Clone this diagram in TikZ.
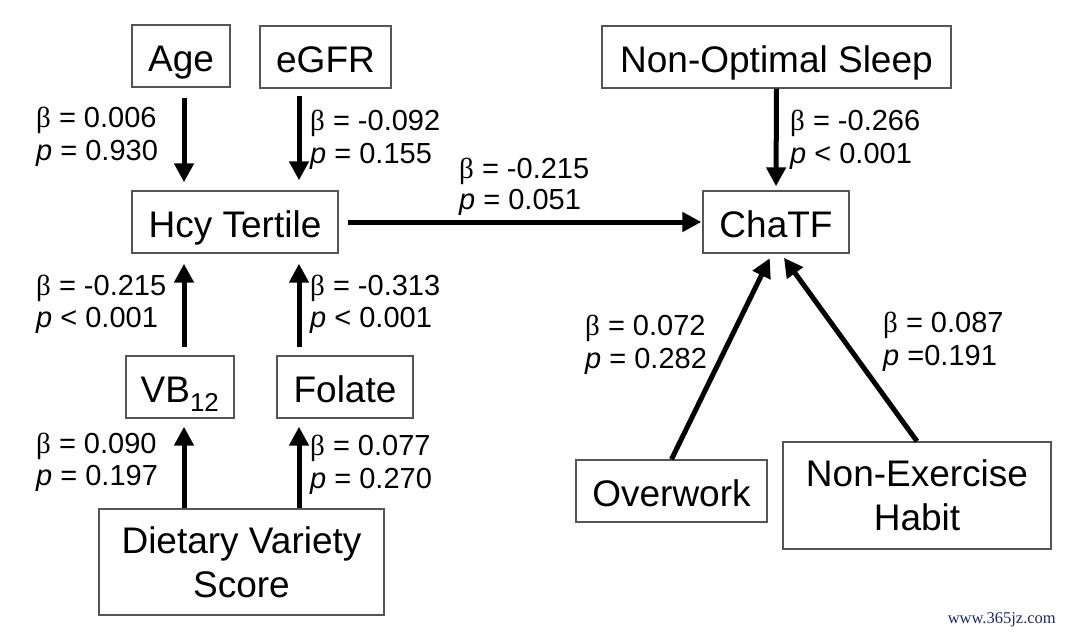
\documentclass[tikz,border=0pt]{standalone}
\usepackage{fontspec}
\setmainfont{Liberation Sans}
\newfontfamily\grkfont{Liberation Serif}
\newfontfamily\wmfont{Liberation Serif}
\usetikzlibrary{arrows.meta}
\newcommand\betasym{{\grkfont β}}
\definecolor{wmblue}{RGB}{28,40,110}
\definecolor{boxgray}{RGB}{85,85,85}
\begin{document}
\begin{tikzpicture}[x=1pt,y=-1pt,
  box/.style={draw=boxgray, line width=1.4pt, inner sep=0pt, font=\fontsize{37}{44}\selectfont, text height=30pt, text depth=0pt},
  boxtwo/.style={draw=boxgray, line width=1.4pt, inner sep=0pt, font=\fontsize{37}{44}\selectfont, align=center},
  lbl/.style={inner sep=0pt, anchor=base west, font=\fontsize{29}{33}\selectfont},
  arr/.style={line width=5pt, -{Triangle[length=19pt,width=19pt]}}]
\useasboundingbox (0,0) rectangle (1080,635);
% nodes
\node[box, minimum width=98pt, minimum height=62pt] (age) at (181,56) {Age};
\node[box, minimum width=131pt, minimum height=62pt] (egfr) at (325.5,57) {eGFR};
\node[box, minimum width=349pt, minimum height=62pt] (sleep) at (776.5,57) {Non-Optimal Sleep};
\node[box, minimum width=206pt, minimum height=62pt] (hcy) at (235,222) {Hcy Tertile};
\node[box, minimum width=146pt, minimum height=62pt] (chatf) at (776,222) {ChaTF};
\node[box, minimum width=108pt, minimum height=62pt] (vb) at (180,387) {VB\textsubscript{12}};
\node[box, minimum width=136pt, minimum height=62pt] (fol) at (345,387) {Folate};
\node[boxtwo, minimum width=285pt, minimum height=106pt] (diet) at (241.5,562) {Dietary Variety\\Score};
\node[box, minimum width=191pt, minimum height=62pt] (over) at (671.5,491) {Overwork};
\node[boxtwo, minimum width=268pt, minimum height=107pt] (nonex) at (917,495.5) {Non-Exercise\\Habit};
% columns
\coordinate (cA) at (184,0);
\coordinate (cB) at (299,0);
% arrows
\draw[arr, shorten <=10pt, shorten >=8pt] (age.south -| cA) -- (hcy.north -| cA);
\draw[arr, shorten <=7pt, shorten >=10pt] (egfr.south -| cB) -- (hcy.north -| cB);
\draw[arr, shorten <=8pt, shorten >=10pt] (vb.north -| cA) -- (hcy.south -| cA);
\draw[arr, shorten <=8pt, shorten >=10pt] (fol.north -| cB) -- (hcy.south -| cB);
\draw[arr, shorten >=8pt] (diet.north -| cA) -- (vb.south -| cA);
\draw[arr, shorten >=8pt] (diet.north -| cB) -- (fol.south -| cB);
\draw[arr, shorten <=9pt, shorten >=1pt] (hcy.east) -- (chatf.west);
\draw[arr, shorten >=4pt] (sleep.south) -- (chatf.north);
\draw[arr, shorten >=5pt] (over.north) -- ([xshift=-4pt]chatf.south);
\draw[arr, shorten >=5pt] (nonex.north) -- ([xshift=5pt]chatf.south);
% labels
\node[lbl] (la1) at (36,127) {\betasym{} = 0.006};
\node[lbl] (la2) at (36,160) {\textit{p} = 0.930};
\node[lbl] (lb1) at (310,130) {\betasym{} = -0.092};
\node[lbl] (lb2) at (310,163) {\textit{p} = 0.155};
\node[lbl] (lc1) at (459,178) {\betasym{} = -0.215};
\node[lbl] (lc2) at (459,209) {\textit{p} = 0.051};
\node[lbl] (ld1) at (36,295) {\betasym{} = -0.215};
\node[lbl] (ld2) at (36,327) {\textit{p} < 0.001};
\node[lbl] (le1) at (310,295) {\betasym{} = -0.313};
\node[lbl] (le2) at (310,327) {\textit{p} < 0.001};
\node[lbl] (lf1) at (36,453) {\betasym{} = 0.090};
\node[lbl] (lf2) at (36,485) {\textit{p} = 0.197};
\node[lbl] (lg1) at (310,455) {\betasym{} = 0.077};
\node[lbl] (lg2) at (310,488) {\textit{p} = 0.270};
\node[lbl] (lh1) at (790,130) {\betasym{} = -0.266};
\node[lbl] (lh2) at (790,163) {\textit{p} < 0.001};
\node[lbl] (li1) at (585,335) {\betasym{} = 0.072};
\node[lbl] (li2) at (585,368) {\textit{p} = 0.282};
\node[lbl] (lj1) at (883,332) {\betasym{} = 0.087};
\node[lbl] (lj2) at (883,365) {\textit{p} =0.191};
% watermark
\node[inner sep=0pt, anchor=base east, font=\wmfont\fontsize{16.5}{18}\selectfont, text=wmblue] (wm) at (1056,623) {www.365jz.com};
\end{tikzpicture}
\end{document}
